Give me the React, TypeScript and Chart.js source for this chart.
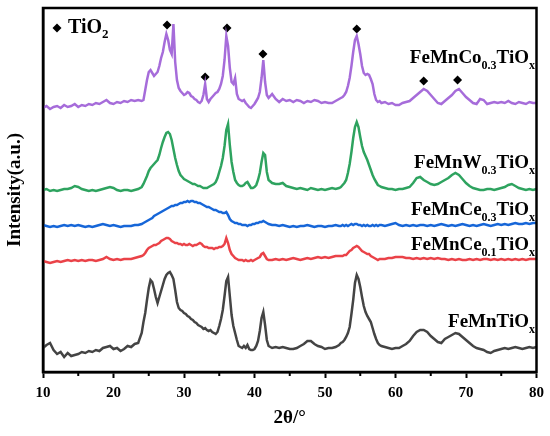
import React, { useEffect, useRef } from "react";
import { Chart, registerables } from "chart.js";

Chart.register(...registerables);

// 2θ sampling positions (degrees)
const twoTheta = [
  10, 10.5, 11, 11.5, 12, 12.5, 13, 13.5, 14, 14.5, 15, 15.5, 16, 16.5, 17, 17.5, 18, 18.5, 19, 19.5, 20, 20.5, 21, 21.5, 22, 22.5, 23, 23.5, 24,
  24.25, 24.5, 24.75, 25, 25.25, 25.5, 25.75, 26, 26.25, 26.5, 26.75, 27, 27.25, 27.5, 27.75, 28, 28.25, 28.5, 28.75, 29, 29.25, 29.5, 29.75, 30,
  30.25, 30.5, 30.75, 31, 31.25, 31.5, 31.75, 32, 32.25, 32.5, 32.75, 33, 33.25, 33.5, 33.75, 34, 34.25, 34.5, 34.75, 35, 35.25, 35.5, 35.75, 36,
  36.25, 36.5, 36.75, 37, 37.25, 37.5, 37.75, 38, 38.25, 38.5, 38.75, 39, 39.25, 39.5, 39.75, 40, 40.25, 40.5, 40.75, 41, 41.25, 41.5, 41.75, 42,
  42.5, 43, 43.5, 44, 44.5, 45, 45.5, 46, 46.5, 47, 47.5, 48, 48.5, 49, 49.5, 50, 50.5, 51, 51.5, 52,
  52.25, 52.5, 52.75, 53, 53.25, 53.5, 53.75, 54, 54.25, 54.5, 54.75, 55, 55.25, 55.5, 55.75, 56, 56.25, 56.5, 56.75, 57, 57.25, 57.5, 57.75, 58,
  58.5, 59, 59.5, 60, 60.5, 61, 61.5, 62, 62.5, 63, 63.5, 64, 64.5, 65, 65.5, 66, 66.5, 67, 67.5, 68, 68.5, 69, 69.5, 70, 70.5, 71, 71.5, 72,
  72.5, 73, 73.5, 74, 74.5, 75, 75.5, 76, 76.5, 77, 77.5, 78, 78.5, 79, 79.5, 80,
];

// Intensities (a.u., stacked offsets as in the figure)
const feMnCo03 = [
  264, 266, 263, 265, 266, 264, 267, 265, 266, 268, 265, 267, 266, 268, 267, 269, 268, 270, 272, 269, 268, 270, 269, 271, 270, 272, 271, 272, 271,
  272, 282, 292, 300, 302, 299, 296, 298, 300, 306, 314, 320, 330, 338, 332, 322, 318, 348, 310, 292, 284, 281, 279, 277,
  278, 280, 279, 276, 275, 273, 272, 270, 269, 271, 277, 288, 273, 270, 273, 275, 277, 279, 280, 283, 288, 296, 312, 336,
  326, 304, 290, 288, 294, 278, 273, 272, 271, 272, 269, 267, 265, 264, 266, 268, 271, 274, 280, 294, 312, 290, 277, 274,
  278, 273, 270, 273, 271, 272, 270, 272, 271, 269, 271, 270, 272, 271, 269, 270, 269, 269, 271, 273,
  274, 275, 277, 280, 286, 294, 306, 320, 332, 336, 328, 318, 306, 299, 297, 298, 297, 293, 288, 278, 272, 270, 271, 269,
  270, 268, 269, 267, 267, 269, 270, 271, 274, 277, 280, 283, 281, 277, 273, 269, 268, 271, 274, 277, 281, 283, 279, 275, 272, 269, 268, 273,
  272, 268, 269, 270, 269, 270, 269, 271, 269, 268, 270, 269, 268, 270, 269, 269,
];

const feMnW03 = [
  182, 183, 181, 182, 181, 182, 183, 183, 184, 186, 185, 183, 182, 181, 182, 181, 182, 183, 184, 185, 184, 182, 181, 182, 182, 181, 182, 183, 185,
  188, 192, 196, 201, 204, 206, 208, 210, 212, 217, 224, 230, 235, 239, 240, 238, 232, 223, 214, 207, 201, 197, 195, 193,
  192, 191, 190, 189, 188, 188, 187, 186, 186, 185, 184, 184, 184, 185, 186, 187, 188, 190, 194, 200, 206, 214, 226, 242,
  248, 227, 210, 200, 192, 189, 187, 186, 186, 187, 189, 190, 187, 184, 184, 185, 187, 192, 199, 210, 219, 217, 200, 192,
  189, 188, 188, 189, 186, 185, 184, 183, 184, 183, 182, 184, 183, 182, 183, 182, 183, 184, 183, 184,
  185, 187, 189, 192, 199, 208, 220, 234, 245, 250, 245, 235, 226, 220, 216, 212, 207, 202, 197, 193, 190, 187, 186, 185,
  184, 183, 183, 182, 183, 183, 184, 185, 189, 194, 195, 192, 190, 188, 187, 188, 190, 192, 194, 197, 199, 197, 193, 189, 186, 184, 183, 182,
  182, 183, 183, 182, 183, 184, 185, 187, 188, 186, 184, 183, 182, 183, 182, 183,
];

const feMnCe03 = [
  147, 146, 145, 146, 145, 146, 147, 146, 147, 146, 147, 146, 145, 146, 145, 146, 147, 148, 147, 146, 147, 146, 145, 146, 146, 146, 147, 147, 148,
  149, 150, 151, 152, 153, 154, 156, 157, 158, 159, 160, 161, 162, 163, 164, 165, 166, 166, 167, 167, 168, 169, 169, 170,
  170, 171, 170, 171, 171, 170, 170, 169, 169, 168, 167, 166, 165, 165, 164, 163, 162, 162, 161, 160, 160, 159, 159, 160,
  157, 153, 151, 150, 149, 149, 148, 148, 147, 147, 147, 146, 147, 147, 148, 148, 149, 149, 150, 150, 151, 150, 149, 148,
  147, 147, 146, 147, 146, 145, 146, 145, 146, 146, 147, 146, 145, 146, 146, 145, 146, 146, 147, 146,
  146, 147, 146, 147, 146, 147, 148, 147, 148, 148, 147, 147, 146, 147, 146, 147, 146, 146, 147, 146, 147, 146, 147, 147,
  146, 147, 148, 149, 147, 146, 147, 146, 147, 146, 147, 147, 146, 147, 146, 147, 148, 147, 146, 147, 146, 147, 148, 147, 146, 147, 146, 147,
  148, 147, 146, 147, 148, 147, 148, 147, 148, 149, 148, 148, 149, 148, 149, 149,
];

const feMnCe01 = [
  111, 110, 109, 110, 111, 110, 111, 112, 111, 112, 111, 112, 111, 112, 112, 111, 112, 113, 115, 113, 112, 113, 112, 113, 113, 113, 114, 115, 116,
  117, 119, 122, 124, 125, 126, 127, 127, 128, 129, 131, 132, 133, 134, 134, 133, 131, 130, 129, 129, 128, 128, 127, 128,
  127, 127, 128, 127, 126, 127, 127, 128, 129, 128, 126, 125, 125, 124, 124, 124, 123, 124, 124, 125, 125, 126, 128, 134,
  129, 122, 118, 116, 114, 113, 112, 112, 112, 111, 112, 111, 111, 112, 111, 112, 113, 114, 115, 118, 119, 116, 113, 112,
  112, 113, 112, 113, 112, 113, 114, 113, 112, 113, 114, 113, 114, 115, 114, 115, 114, 115, 116, 116,
  116, 116, 117, 117, 119, 121, 122, 124, 125, 126, 125, 123, 121, 120, 119, 118, 118, 116, 115, 114, 113, 112, 113, 113,
  113, 114, 114, 115, 115, 115, 114, 114, 113, 114, 113, 114, 113, 114, 113, 114, 113, 113, 112, 113, 112, 113, 112, 112, 113, 112, 113, 112,
  113, 113, 112, 113, 112, 113, 112, 113, 112, 113, 112, 113, 112, 113, 113, 113,
];

const feMnTi = [
  24, 27, 29, 22, 18, 20, 15, 19, 16, 17, 18, 20, 19, 21, 20, 22, 21, 24, 25, 26, 23, 24, 21, 23, 26, 25, 28, 29, 39,
  50, 59, 72, 84, 92, 90, 83, 75, 69, 75, 81, 87, 93, 97, 99, 100, 97, 93, 82, 70, 64, 62, 61, 59,
  58, 56, 55, 53, 52, 50, 49, 47, 46, 45, 43, 44, 42, 41, 42, 40, 39, 38, 40, 46, 53, 62, 76, 91,
  95, 76, 57, 46, 39, 32, 26, 25, 24, 26, 24, 27, 23, 22, 22, 23, 26, 31, 41, 54, 60, 47, 32, 26,
  24, 25, 24, 25, 24, 23, 23, 24, 26, 28, 31, 31, 28, 26, 25, 23, 24, 24, 25, 27,
  29, 30, 32, 35, 39, 45, 58, 72, 89, 97, 93, 85, 75, 66, 60, 56, 53, 50, 44, 38, 33, 29, 27, 26,
  25, 24, 23, 24, 24, 26, 28, 31, 36, 40, 42, 42, 40, 36, 33, 30, 29, 33, 35, 37, 39, 38, 35, 32, 29, 26, 24, 23,
  22, 20, 19, 21, 22, 23, 24, 23, 24, 25, 24, 23, 24, 25, 24, 25,
];

// TiO2 reflection markers (◆)
const tio2X = [27.6, 33.0, 36.1, 41.2, 54.5, 64.0, 68.8];
const tio2Y = [347, 295, 344, 318, 343, 291, 292];

// Sample names (with subscripts) and the intensity level of their baselines
type Seg = { t: string; sub?: boolean };
const sampleNames: Seg[][] = [
  [{ t: "FeMnCo" }, { t: "0.3", sub: true }, { t: "TiO" }, { t: "x", sub: true }],
  [{ t: "FeMnW" }, { t: "0.3", sub: true }, { t: "TiO" }, { t: "x", sub: true }],
  [{ t: "FeMnCe" }, { t: "0.3", sub: true }, { t: "TiO" }, { t: "x", sub: true }],
  [{ t: "FeMnCe" }, { t: "0.1", sub: true }, { t: "TiO" }, { t: "x", sub: true }],
  [{ t: "FeMnTiO" }, { t: "x", sub: true }],
];
const sampleLabelY = [309, 204, 157, 122, 45];
const legendName: Seg[] = [{ t: "TiO" }, { t: "2", sub: true }];

const minorTicks = [15, 25, 35, 45, 55, 65, 75];

const seriesColors = ["#A66CDA", "#2EA35F", "#1666D8", "#EA4248", "#444444"];

const FONT = '"Liberation Serif", "Times New Roman", serif';

function drawRich(
  ctx: CanvasRenderingContext2D,
  segs: Seg[],
  x: number,
  yBase: number,
  align: "left" | "right",
  mainSize: number,
  subSize: number,
  subDrop: number
) {
  const mainFont = `bold ${mainSize}px ${FONT}`;
  const subFont = `bold ${subSize}px ${FONT}`;
  const widths = segs.map((s) => {
    ctx.font = s.sub ? subFont : mainFont;
    return ctx.measureText(s.t).width;
  });
  const total = widths.reduce((a, b) => a + b, 0);
  let cx = align === "right" ? x - total : x;
  ctx.textAlign = "left";
  ctx.textBaseline = "alphabetic";
  ctx.fillStyle = "#000";
  segs.forEach((s, i) => {
    ctx.font = s.sub ? subFont : mainFont;
    ctx.fillText(s.t, cx, s.sub ? yBase + subDrop : yBase);
    cx += widths[i];
  });
}

const overlay = {
  id: "overlay",
  afterDatasetsDraw(chart: any) {
    const { ctx, chartArea: a, scales } = chart;
    ctx.save();
    // frame
    ctx.strokeStyle = "#000";
    ctx.lineWidth = 2.5;
    ctx.strokeRect(a.left, a.top, a.right - a.left, a.bottom - a.top);
    // minor ticks
    ctx.lineWidth = 2;
    minorTicks.forEach((v) => {
      const px = scales.x.getPixelForValue(v);
      ctx.beginPath();
      ctx.moveTo(px, a.bottom);
      ctx.lineTo(px, a.bottom + 4);
      ctx.stroke();
    });
    // legend
    const lx = a.left + 14;
    const ly = a.top + 20;
    ctx.fillStyle = "#000";
    ctx.beginPath();
    ctx.moveTo(lx, ly - 4.5);
    ctx.lineTo(lx + 4.5, ly);
    ctx.lineTo(lx, ly + 4.5);
    ctx.lineTo(lx - 4.5, ly);
    ctx.closePath();
    ctx.fill();
    drawRich(ctx, legendName, lx + 11, ly + 5, "left", 20, 13, 5);
    // sample labels
    sampleNames.forEach((segs, i) => {
      const y = scales.y.getPixelForValue(sampleLabelY[i]);
      drawRich(ctx, segs, a.right - 1.5, y, "right", 19, 12, 6);
    });
    ctx.restore();
  },
};

export default function App() {
  const ref = useRef<HTMLCanvasElement>(null);
  useEffect(() => {
    const pts = (ys: number[]) => twoTheta.map((x, i) => ({ x, y: ys[i] }));
    const series = [feMnCo03, feMnW03, feMnCe03, feMnCe01, feMnTi];
    const datasets: any[] = series.map((ys, i) => ({
      data: pts(ys),
      borderColor: seriesColors[i],
      borderWidth: 2.5,
      pointRadius: 0,
      tension: 0,
      fill: false,
    }));
    datasets.push({
      data: tio2X.map((x, i) => ({ x, y: tio2Y[i] })),
      showLine: false,
      pointStyle: "rectRot",
      pointRadius: 4.5,
      pointBackgroundColor: "#000",
      pointBorderColor: "#000",
      pointBorderWidth: 0,
    });
    const chart = new Chart(ref.current!, {
      type: "line",
      data: { datasets },
      options: {
        animation: false,
        responsive: true,
        maintainAspectRatio: false,
        layout: { padding: { top: 8, right: 12, left: 0, bottom: 0 } },
        plugins: { legend: { display: false }, tooltip: { enabled: false } },
        scales: {
          x: {
            type: "linear",
            min: 10,
            max: 80,
            ticks: {
              stepSize: 10,
              color: "#000",
              padding: 6,
              maxRotation: 0,
              font: { family: FONT, size: 15, weight: "bold" },
            },
            grid: {
              display: true,
              drawOnChartArea: false,
              drawTicks: true,
              tickLength: 6,
              tickWidth: 2,
              tickColor: "#000",
            },
            border: { display: true, color: "#000", width: 2.5 },
            title: {
              display: true,
              text: "2θ/°",
              color: "#000",
              font: { family: FONT, size: 19, weight: "bold" },
              padding: { top: 0, bottom: 7 },
            },
            afterFit(s: any) {
              s.height = 64;
            },
          },
          y: {
            type: "linear",
            min: 0,
            max: 364,
            ticks: { display: false },
            grid: { display: false },
            border: { display: true, color: "#000", width: 2.5 },
            title: {
              display: true,
              text: "Intensity(a.u.)",
              color: "#000",
              font: { family: FONT, size: 19, weight: "bold" },
              padding: { top: 4, bottom: 0 },
            },
            afterFit(s: any) {
              s.width = 43;
            },
          },
        },
      } as any,
      plugins: [overlay],
    });
    return () => chart.destroy();
  }, []);
  return (
    <div style={{ position: "fixed", left: 0, top: 0, width: 550, height: 436, background: "#fff" }}>
      <canvas ref={ref} />
    </div>
  );
}
